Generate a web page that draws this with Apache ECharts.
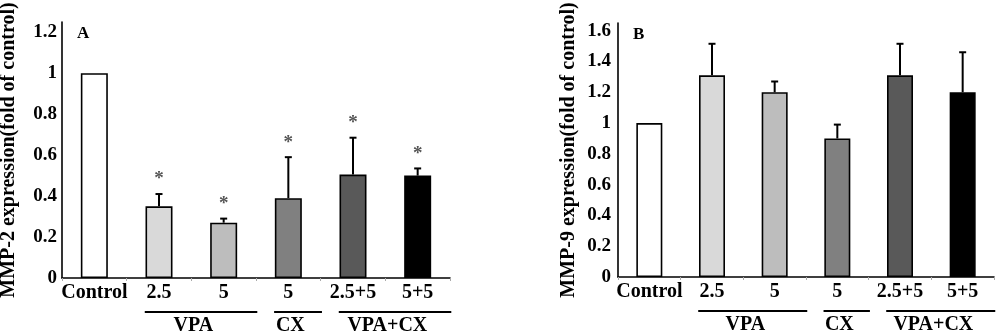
<!DOCTYPE html>
<html><head><meta charset="utf-8">
<script src="https://cdn.jsdelivr.net/npm/echarts@6/dist/echarts.min.js"></script>
<style>html,body{margin:0;padding:0;background:#fff}#c{width:1000px;height:332px}</style>
</head><body><div id="c"></div>
<script>
// ---- data ----
const categories = ['Control', '2.5', '5', '5', '2.5+5', '5+5'];
const groupNames = ['VPA', 'CX', 'VPA+CX'];
const groupFrom = [1, 3, 4];
const groupTo = [2, 3, 5];
const mmp2Values = [1.0, 0.35, 0.27, 0.39, 0.505, 0.50];
const mmp2Errors = [0, 0.06, 0.02, 0.20, 0.18, 0.035];
const mmp2Sig = [0, 1, 1, 1, 1, 1];
const mmp9Values = [1.0, 1.31, 1.20, 0.90, 1.31, 1.20];
const mmp9Errors = [0, 0.205, 0.07, 0.09, 0.205, 0.26];
const mmp9Sig = [0, 0, 0, 0, 0, 0];
const yTitles = ['MMP-2 expression(fold of control)', 'MMP-9 expression(fold of control)'];
const panelLetters = ['A', 'B'];

// ---- styles ----
const FONT = 'Liberation Serif';
const barColors = ['#ffffff', '#d9d9d9', '#bdbdbd', '#808080', '#595959', '#000000'];

const chart = echarts.init(document.getElementById('c'), null, {renderer: 'canvas'});

function barSeries(idx, vals, bw) {
  return {
    type: 'bar', xAxisIndex: idx, yAxisIndex: idx, barWidth: bw,
    data: vals.map((v, i) => ({value: v, itemStyle: {color: barColors[i]}})),
    itemStyle: {borderColor: '#000', borderWidth: 1.6},
    silent: true, animation: false
  };
}
function errSeries(idx, vals, errs, sig) {
  return {
    type: 'custom', xAxisIndex: idx, yAxisIndex: idx, z: 10, animation: false, silent: true,
    data: vals.map((v, i) => [i, v, errs[i], sig[i]]),
    renderItem: function (params, api) {
      const x = api.value(0), v = api.value(1), e = api.value(2), s = api.value(3);
      const base = api.coord([x, v]);
      const top = api.coord([x, v + e]);
      const children = [];
      if (e > 0) {
        children.push({type: 'line', shape: {x1: base[0], y1: base[1], x2: top[0], y2: top[1]},
          style: {stroke: '#000', lineWidth: 2}});
        children.push({type: 'line', shape: {x1: top[0] - 3.5, y1: top[1], x2: top[0] + 3.5, y2: top[1]},
          style: {stroke: '#000', lineWidth: 2}});
      }
      if (s) {
        children.push({type: 'text', x: top[0], y: top[1] - 5,
          style: {text: '*', fill: '#555', font: 'bold 19px ' + FONT, align: 'center', verticalAlign: 'bottom'}});
      }
      return {type: 'group', children: children};
    }
  };
}
function xAxis(idx) {
  return {
    type: 'category', gridIndex: idx, data: categories,
    axisLine: {lineStyle: {color: '#000', width: 1.6}},
    axisTick: {show: true, length: 3, lineStyle: {color: '#aaa'}},
    axisLabel: {interval: 0, color: '#000', fontFamily: FONT, fontWeight: 'bold', fontSize: 20, margin: 5},
    splitLine: {show: false}
  };
}
function yAxis(idx, max, margin) {
  return {
    type: 'value', gridIndex: idx, min: 0, max: max, interval: 0.2,
    name: yTitles[idx], nameLocation: 'middle', nameGap: idx === 0 ? 43 : 39, nameRotate: 90,
    nameTextStyle: {color: '#000', fontFamily: FONT, fontWeight: 'bold', fontSize: 20},
    axisLine: {show: true, lineStyle: {color: '#000', width: 1.6}},
    axisTick: {show: false},
    axisLabel: {color: '#000', fontFamily: FONT, fontWeight: 'bold', fontSize: 19, margin: margin, showMaxLabel: false},
    splitLine: {show: false}
  };
}

chart.setOption({
  backgroundColor: '#fff',
  animation: false,
  grid: [
    {left: 62, top: 22, width: 388, height: 256, outerBoundsMode: 'none', containLabel: false},
    {left: 618, top: 23, width: 376, height: 254, outerBoundsMode: 'none', containLabel: false}
  ],
  xAxis: [xAxis(0), xAxis(1)],
  yAxis: [yAxis(0, 1.25, 5), yAxis(1, 1.65, 7)],
  series: [
    barSeries(0, mmp2Values, 27), errSeries(0, mmp2Values, mmp2Errors, mmp2Sig),
    barSeries(1, mmp9Values, 26), errSeries(1, mmp9Values, mmp9Errors, mmp9Sig)
  ]
});

// group brackets + panel letters, positioned via the axes
const graphics = [];
[0, 1].forEach(function (gi) {
  const c0 = chart.convertToPixel({xAxisIndex: gi}, 0);
  const c1 = chart.convertToPixel({xAxisIndex: gi}, 1);
  const band = c1 - c0;
  const y0 = chart.convertToPixel({yAxisIndex: gi}, 0);
  const yTop = chart.convertToPixel({yAxisIndex: gi}, gi === 0 ? 1.25 : 1.65);
  groupNames.forEach(function (name, k) {
    const a = c0 + groupFrom[k] * band;
    const b = c0 + groupTo[k] * band;
    const x1 = a - 0.22 * band, x2 = b + 0.52 * band;
    graphics.push({type: 'line', shape: {x1: x1, y1: y0 + 34, x2: x2, y2: y0 + 34},
      style: {stroke: '#000', lineWidth: 2}, silent: true});
    graphics.push({type: 'text', x: (a + b) / 2 + 2, y: y0 + 38,
      style: {text: name, fill: '#000', font: 'bold 20px ' + FONT, align: 'center', verticalAlign: 'top'}, silent: true});
  });
  graphics.push({type: 'text', x: c0 - 0.5 * band + 15, y: yTop + 3,
    style: {text: panelLetters[gi], fill: '#000', font: 'bold 17px ' + FONT, align: 'left', verticalAlign: 'top'}, silent: true});
});
chart.setOption({graphic: graphics});
</script>
</body></html>
